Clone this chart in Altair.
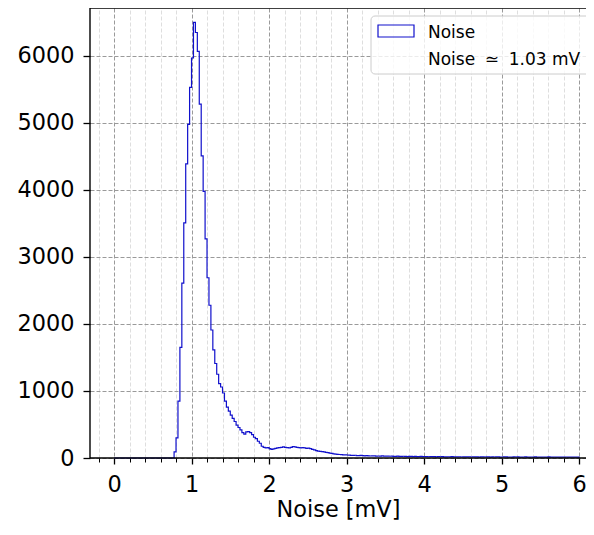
import altair as alt
import pandas as pd

# ---- data -------------------------------------------------------------
bin_width = 0.025          # 240 bins over 0 .. 6 mV
zeros_low = [0] * 31       # bins 0.000 .. 0.775 are empty
counts_peak = [
    90, 300, 850, 1650, 2610, 3510, 4390, 4980, 5530, 5970,
    6500, 6350, 6070, 5280, 4510, 3980, 3270, 2690, 2280, 1910,
    1615, 1410, 1250, 1110, 1060, 970, 850, 760, 700, 640,
    590, 545, 490, 455, 420, 380, 355, 390, 395, 380,
    350, 310, 290, 250, 220, 175, 160, 150, 155, 140,
    130, 135, 145, 150, 155, 160, 165, 160, 155, 150,
    160, 170, 165, 160, 155, 150, 155, 150, 145, 148,
    140, 130, 120, 110, 104, 100, 95, 90, 85, 80,
    72, 68, 62, 58, 55, 52, 50, 48, 46, 45,
]
counts_tail1 = [42, 40, 38, 41, 36, 35, 38, 34, 33, 35,
                32, 30, 33, 31, 29, 30, 28, 31, 27, 28]
counts_tail2 = [27, 26, 28, 25, 24, 27, 25, 23, 26, 24,
                22, 25, 23, 21, 24, 22, 20, 23, 21, 22,
                20, 19, 22, 20, 21, 18, 20, 19, 21, 18]
counts_tail3 = [17, 19, 18, 20, 16, 18, 17, 19, 15, 18,
                16, 17, 19, 15, 17, 16, 18, 14, 16, 17,
                15, 18, 16, 14, 17, 15, 16, 18, 14, 15,
                17, 16, 14, 15, 13, 16, 15, 17, 14, 13,
                15, 16, 14, 12, 15, 14, 16, 13, 14, 12,
                15, 13, 14, 16, 12, 13, 15, 14, 12, 13,
                14, 12, 15, 13, 12, 14, 13, 12, 14]
counts = zeros_low + counts_peak + counts_tail1 + counts_tail2 + counts_tail3

x_major = [0, 1, 2, 3, 4, 5, 6]
x_minor = [-0.2, 0.2, 0.4, 0.6, 0.8, 1.2, 1.4, 1.6, 1.8, 2.2, 2.4, 2.6, 2.8,
           3.2, 3.4, 3.6, 3.8, 4.2, 4.4, 4.6, 4.8, 5.2, 5.4, 5.6, 5.8]
y_major = [0, 1000, 2000, 3000, 4000, 5000, 6000]
legend_labels = ["Noise", "Noise \u2005\u2243\u2005 1.03 mV"]
x_title = "Noise [mV]"

# ---- build step table --------------------------------------------------
left_edges = [round(i * bin_width, 4) for i in range(len(counts))]
hi_edge = round(len(counts) * bin_width, 4)
hist_df = pd.DataFrame({"x": left_edges + [hi_edge], "y": counts + [0]})
minor_df = pd.DataFrame({"x": x_minor})
one = pd.DataFrame({"k": [0]})

W, H = 496, 450
FONT = "DejaVu Sans"
BLUE = "#1010cc"
FS = 22.4

xs = alt.Scale(domain=[-0.31, 6.09], nice=False, zero=False)
ys = alt.Scale(domain=[0, 6716], nice=False, zero=False)

minor_layer = alt.Chart(minor_df).mark_point(opacity=0).encode(
    x=alt.X("x:Q", scale=xs, axis=alt.Axis(
        orient="bottom", values=x_minor, grid=True, gridColor="#dadada",
        gridDash=[4, 2], gridWidth=0.9, labels=False, ticks=True, tickSize=4,
        tickColor="black", tickWidth=1, domain=False, title=None)),
)

hist_layer = alt.Chart(hist_df).mark_line(
    interpolate="step-after", color=BLUE, strokeWidth=1.2
).encode(
    x=alt.X("x:Q", scale=xs, axis=alt.Axis(
        orient="bottom", values=x_major, format="d", grid=True,
        gridColor="#9a9a9a", gridDash=[4, 2], gridWidth=1,
        labelFontSize=FS, labelFont=FONT, labelColor="black",
        tickSize=6, tickWidth=1.3, tickColor="black", labelPadding=9,
        domain=False, title=x_title, titleFont=FONT, titleFontSize=FS,
        titleFontWeight="normal", titleColor="black", titleY=58,
        titleBaseline="alphabetic")),
    y=alt.Y("y:Q", scale=ys, axis=alt.Axis(
        values=y_major, format="d", grid=True, gridColor="#9a9a9a",
        gridDash=[4, 2], gridWidth=1, labelFontSize=FS, labelFont=FONT,
        labelColor="black", tickSize=7, tickWidth=1.3, tickColor="black",
        labelPadding=9, domain=False, title=None)),
)

spine_bottom = alt.Chart(one).mark_rule(color="black", strokeWidth=1.4).encode(
    x=alt.value(0), x2=alt.value(W), y=alt.value(H))
spine_left = alt.Chart(one).mark_rule(color="black", strokeWidth=1.4).encode(
    x=alt.value(0), y=alt.value(0), y2=alt.value(H))
spine_top = alt.Chart(one).mark_rule(color="black", strokeWidth=1.4).encode(
    x=alt.value(0), x2=alt.value(W), y=alt.value(0))

leg_box = alt.Chart(one).mark_rect(
    fill="white", fillOpacity=0.8, stroke="#cccccc", strokeWidth=1,
    cornerRadius=4).encode(
    x=alt.value(281), x2=alt.value(512), y=alt.value(8), y2=alt.value(66))
leg_sym = alt.Chart(one).mark_rect(
    fillOpacity=0, stroke=BLUE, strokeWidth=1.2).encode(
    x=alt.value(288), x2=alt.value(324), y=alt.value(17), y2=alt.value(29))
leg_t1 = alt.Chart(one).mark_text(
    text=legend_labels[0], font=FONT, fontSize=17, align="left",
    baseline="alphabetic", color="black").encode(
    x=alt.value(338), y=alt.value(30))
leg_t2 = alt.Chart(one).mark_text(
    text=legend_labels[1], font=FONT, fontSize=17, align="left",
    baseline="alphabetic", color="black").encode(
    x=alt.value(338), y=alt.value(56.5))

chart = alt.layer(
    minor_layer, hist_layer, spine_bottom, spine_left, spine_top,
    leg_box, leg_sym, leg_t1, leg_t2
).resolve_axis(x="independent").properties(
    width=W, height=H,
    autosize=alt.AutoSizeParams(type="none"),
    padding={"left": 82, "top": 0, "right": 0, "bottom": 63},
    background="white",
).configure_view(stroke=None)

chart.save("out.html", embed_options={"renderer": "svg", "actions": False})
